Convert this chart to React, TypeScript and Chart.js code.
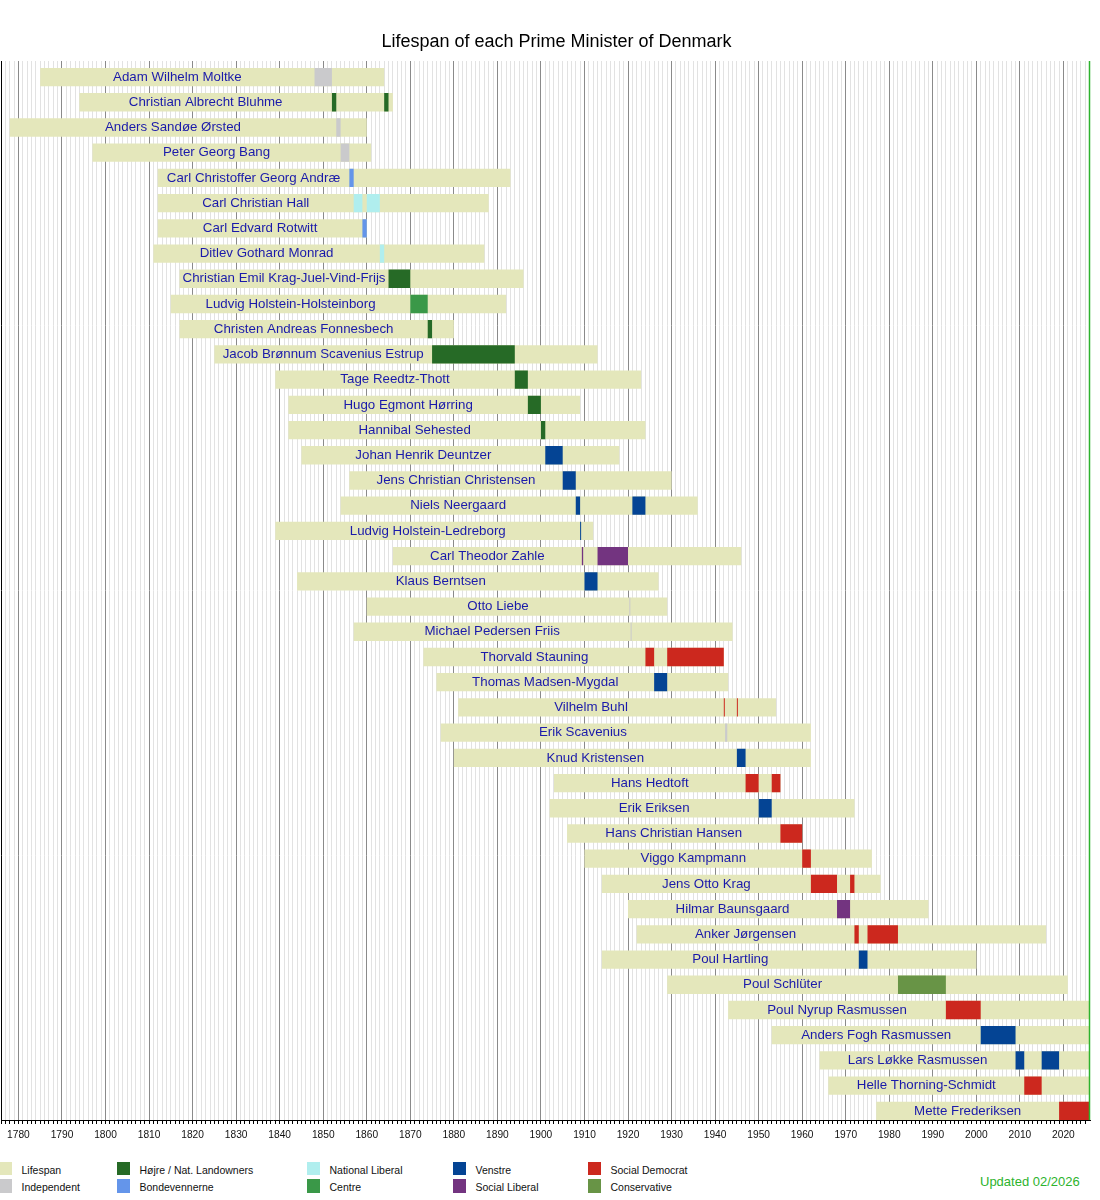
import React, { useEffect, useRef } from "react";
import { Chart, registerables } from "chart.js";

Chart.register(...registerables);

const FONT = "'Liberation Sans', Arial, Helvetica, sans-serif";
const X_MIN = 1776;
const UPDATED = 2026.1; // "now" for the living, Feb 2026
const BAR_FRACTION = 0.726;

const pmNames = [
  "Adam Wilhelm Moltke",
  "Christian Albrecht Bluhme",
  "Anders Sandøe Ørsted",
  "Peter Georg Bang",
  "Carl Christoffer Georg Andræ",
  "Carl Christian Hall",
  "Carl Edvard Rotwitt",
  "Ditlev Gothard Monrad",
  "Christian Emil Krag-Juel-Vind-Frijs",
  "Ludvig Holstein-Holsteinborg",
  "Christen Andreas Fonnesbech",
  "Jacob Brønnum Scavenius Estrup",
  "Tage Reedtz-Thott",
  "Hugo Egmont Hørring",
  "Hannibal Sehested",
  "Johan Henrik Deuntzer",
  "Jens Christian Christensen",
  "Niels Neergaard",
  "Ludvig Holstein-Ledreborg",
  "Carl Theodor Zahle",
  "Klaus Berntsen",
  "Otto Liebe",
  "Michael Pedersen Friis",
  "Thorvald Stauning",
  "Thomas Madsen-Mygdal",
  "Vilhelm Buhl",
  "Erik Scavenius",
  "Knud Kristensen",
  "Hans Hedtoft",
  "Erik Eriksen",
  "Hans Christian Hansen",
  "Viggo Kampmann",
  "Jens Otto Krag",
  "Hilmar Baunsgaard",
  "Anker Jørgensen",
  "Poul Hartling",
  "Poul Schlüter",
  "Poul Nyrup Rasmussen",
  "Anders Fogh Rasmussen",
  "Lars Løkke Rasmussen",
  "Helle Thorning-Schmidt",
  "Mette Frederiksen",
];

const born = [
  1785, 1794, 1778, 1797, 1812, 1812, 1812, 1811, 1817, 1815, 1817, 1825, 1839, 1842,
  1842, 1845, 1856, 1854, 1839, 1866, 1844, 1860, 1857, 1873, 1876, 1881, 1877, 1880,
  1903, 1902, 1906, 1910, 1914, 1920, 1922, 1914, 1929, 1943, 1953, 1964, 1966, 1977,
];

// null = still alive
const died: (number | null)[] = [
  1864, 1866, 1860, 1861, 1893, 1888, 1860, 1887, 1896, 1892, 1880, 1913, 1923, 1909,
  1924, 1918, 1930, 1936, 1912, 1946, 1927, 1929, 1944, 1942, 1943, 1954, 1962, 1962,
  1955, 1972, 1960, 1976, 1978, 1989, 2016, 2000, 2021, null, null, null, null, null,
];

// legend order: read down each column
const parties = [
  "Lifespan",
  "Independent",
  "Højre / Nat. Landowners",
  "Bondevennerne",
  "National Liberal",
  "Centre",
  "Venstre",
  "Social Liberal",
  "Social Democrat",
  "Conservative",
];

const partyColors = [
  "#e4e7bb",
  "#cacacc",
  "#266a26",
  "#6495ea",
  "#b0eeee",
  "#3a9848",
  "#044494",
  "#733480",
  "#cc281e",
  "#689446",
];

// [prime minister, start, end (null = in office), party]
const terms: [string, number, number | null, string][] = [
  ["Adam Wilhelm Moltke", 1848, 1852, "Independent"],
  ["Christian Albrecht Bluhme", 1852, 1853, "Højre / Nat. Landowners"],
  ["Christian Albrecht Bluhme", 1864, 1865, "Højre / Nat. Landowners"],
  ["Anders Sandøe Ørsted", 1853, 1854, "Independent"],
  ["Peter Georg Bang", 1854, 1856, "Independent"],
  ["Carl Christoffer Georg Andræ", 1856, 1857, "Bondevennerne"],
  ["Carl Christian Hall", 1857, 1859, "National Liberal"],
  ["Carl Christian Hall", 1860, 1863, "National Liberal"],
  ["Carl Edvard Rotwitt", 1859, 1860, "Bondevennerne"],
  ["Ditlev Gothard Monrad", 1863, 1864, "National Liberal"],
  ["Christian Emil Krag-Juel-Vind-Frijs", 1865, 1870, "Højre / Nat. Landowners"],
  ["Ludvig Holstein-Holsteinborg", 1870, 1874, "Centre"],
  ["Christen Andreas Fonnesbech", 1874, 1875, "Højre / Nat. Landowners"],
  ["Jacob Brønnum Scavenius Estrup", 1875, 1894, "Højre / Nat. Landowners"],
  ["Tage Reedtz-Thott", 1894, 1897, "Højre / Nat. Landowners"],
  ["Hugo Egmont Hørring", 1897, 1900, "Højre / Nat. Landowners"],
  ["Hannibal Sehested", 1900, 1901, "Højre / Nat. Landowners"],
  ["Johan Henrik Deuntzer", 1901, 1905, "Venstre"],
  ["Jens Christian Christensen", 1905, 1908, "Venstre"],
  ["Niels Neergaard", 1908, 1909, "Venstre"],
  ["Niels Neergaard", 1921, 1924, "Venstre"],
  ["Ludvig Holstein-Ledreborg", 1909, 1909, "Venstre"],
  ["Carl Theodor Zahle", 1909.4, 1909.7, "Social Liberal"],
  ["Carl Theodor Zahle", 1913, 1920, "Social Liberal"],
  ["Klaus Berntsen", 1910, 1913, "Venstre"],
  ["Otto Liebe", 1920.3, 1920.3, "Independent"],
  ["Michael Pedersen Friis", 1920.6, 1920.6, "Independent"],
  ["Thorvald Stauning", 1924, 1926, "Social Democrat"],
  ["Thorvald Stauning", 1929, 1942, "Social Democrat"],
  ["Thomas Madsen-Mygdal", 1926, 1929, "Venstre"],
  ["Vilhelm Buhl", 1942, 1942, "Social Democrat"],
  ["Vilhelm Buhl", 1945, 1945, "Social Democrat"],
  ["Erik Scavenius", 1942.3, 1942.8, "Independent"],
  ["Knud Kristensen", 1945, 1947, "Venstre"],
  ["Hans Hedtoft", 1947, 1950, "Social Democrat"],
  ["Hans Hedtoft", 1953, 1955, "Social Democrat"],
  ["Erik Eriksen", 1950, 1953, "Venstre"],
  ["Hans Christian Hansen", 1955, 1960, "Social Democrat"],
  ["Viggo Kampmann", 1960, 1962, "Social Democrat"],
  ["Jens Otto Krag", 1962, 1968, "Social Democrat"],
  ["Jens Otto Krag", 1971, 1972, "Social Democrat"],
  ["Hilmar Baunsgaard", 1968, 1971, "Social Liberal"],
  ["Anker Jørgensen", 1972, 1973, "Social Democrat"],
  ["Anker Jørgensen", 1975, 1982, "Social Democrat"],
  ["Poul Hartling", 1973, 1975, "Venstre"],
  ["Poul Schlüter", 1982, 1993, "Conservative"],
  ["Poul Nyrup Rasmussen", 1993, 2001, "Social Democrat"],
  ["Anders Fogh Rasmussen", 2001, 2009, "Venstre"],
  ["Lars Løkke Rasmussen", 2009, 2011, "Venstre"],
  ["Lars Løkke Rasmussen", 2015, 2019, "Venstre"],
  ["Helle Thorning-Schmidt", 2011, 2015, "Social Democrat"],
  ["Mette Frederiksen", 2019, null, "Social Democrat"],
];

const legendX = [-1, 117, 307, 453, 588];

const colorOf = (party: string) => partyColors[parties.indexOf(party)];

// bars sit at the bottom of each row, so shift them down by half the gap
const barShift = (chart: any) => {
  const y = chart.scales.y;
  const band = (y.bottom - y.top) / pmNames.length;
  return (band * (1 - BAR_FRACTION)) / 2;
};

const timelinePlugin = {
  id: "timeline",
  beforeDatasetsDraw(chart: any) {
    chart.ctx.save();
    chart.ctx.translate(0, barShift(chart));
  },
  afterDatasetsDraw(chart: any) {
    const ctx = chart.ctx;
    ctx.restore();
    const xs = chart.scales.x;
    const ys = chart.scales.y;
    const shift = barShift(chart);
    ctx.save();
    ctx.font = `13.3px ${FONT}`;
    ctx.fillStyle = "#1a1aaa";
    ctx.textAlign = "center";
    ctx.textBaseline = "middle";
    pmNames.forEach((name, i) => {
      const starts = terms.filter((t) => t[0] === name).map((t) => t[1]);
      const first = Math.min(...starts);
      const x = (xs.getPixelForValue(born[i]) + xs.getPixelForValue(first)) / 2;
      ctx.fillText(name, x, ys.getPixelForValue(i) + shift);
    });
    ctx.restore();
  },
  afterDraw(chart: any) {
    const ctx = chart.ctx;
    const x = chart.scales.x.getPixelForValue(UPDATED);
    ctx.save();
    ctx.strokeStyle = "#2db32d";
    ctx.lineWidth = 1.5;
    ctx.beginPath();
    ctx.moveTo(x - 0.5, chart.chartArea.top);
    ctx.lineTo(x - 0.5, chart.chartArea.bottom);
    ctx.stroke();
    ctx.restore();
  },
};

const LifespanChart = () => {
  const chartRef = useRef<HTMLCanvasElement | null>(null);

  useEffect(() => {
    if (!chartRef.current) return;
    const ctx = chartRef.current.getContext("2d");
    if (!ctx) return;

    const barStyle = {
      grouped: false,
      barPercentage: BAR_FRACTION,
      categoryPercentage: 1,
      borderWidth: 0,
    };

    const datasets: any[] = [
      {
        ...barStyle,
        label: "Lifespan",
        data: pmNames.map((_, i) => [born[i], died[i] ?? UPDATED]),
        backgroundColor: partyColors[0],
        order: 1,
      },
    ];

    terms.forEach(([name, start, end, party]) => {
      const idx = pmNames.indexOf(name);
      datasets.push({
        ...barStyle,
        label: party,
        data: pmNames.map((_, i) => (i === idx ? [start, end ?? UPDATED] : null)),
        backgroundColor: colorOf(party),
        minBarLength: 1,
        order: 0,
      });
    });

    const myChart = new Chart(ctx, {
      type: "bar",
      data: { labels: pmNames, datasets },
      plugins: [timelinePlugin],
      options: {
        indexAxis: "y",
        responsive: false,
        animation: false,
        layout: { padding: { left: 1, right: 10, top: 61, bottom: 4 } },
        scales: {
          x: {
            type: "linear",
            min: X_MIN,
            max: UPDATED,
            position: "bottom",
            ticks: {
              stepSize: 1,
              autoSkip: false,
              maxRotation: 0,
              minRotation: 0,
              // zero padding keeps the plot flush left; the tall line height
              // pushes the labels down instead
              padding: 0,
              color: "#111",
              font: { family: FONT, size: 10.2, lineHeight: "22px" },
              callback: (v: any) =>
                Number.isInteger(v) && v % 10 === 0 ? String(v) : "",
            },
            grid: {
              lineWidth: 1,
              tickLength: 4,
              color: (c: any) => {
                const v = c.tick?.value;
                if (v === X_MIN) return "#000";
                if (!Number.isInteger(v)) return "rgba(0,0,0,0)";
                return v % 10 === 0 ? "#8a8a8a" : "#e2e2e2";
              },
              tickColor: (c: any) =>
                Number.isInteger(c.tick?.value) ? "#000" : "rgba(0,0,0,0)",
            },
            border: { display: true, color: "#000", width: 1 },
          },
          y: {
            type: "category",
            display: false,
            grid: { display: false },
          },
        },
        plugins: {
          legend: { display: false },
          title: { display: false },
          tooltip: {
            callbacks: {
              label: (item: any) => {
                const [a, b] = item.raw as number[];
                return `${item.dataset.label}: ${a}–${b >= UPDATED ? "" : b}`;
              },
            },
          },
        },
      },
    });

    return () => {
      myChart.destroy();
    };
  }, []);

  return (
    <div
      style={{
        position: "absolute",
        left: 0,
        top: 0,
        width: 1100,
        height: 1200,
        background: "#fff",
        fontFamily: FONT,
        overflow: "hidden",
      }}
    >
      <canvas ref={chartRef} width={1100} height={1150} style={{ display: "block" }} />
      <div
        style={{
          position: "absolute",
          left: 0,
          top: 30,
          width: 1113,
          textAlign: "center",
          fontSize: 18,
          lineHeight: "22px",
          color: "#000",
        }}
      >
        Lifespan of each Prime Minister of Denmark
      </div>
      <div style={{ position: "absolute", left: 0, top: 1150, width: 1100, height: 50 }}>
        {parties.map((p, i) => {
          const col = Math.floor(i / 2);
          const row = i % 2;
          return (
            <React.Fragment key={p}>
              <span
                style={{
                  position: "absolute",
                  left: legendX[col],
                  top: 11.7 + row * 17.6,
                  width: 12.7,
                  height: 13.3,
                  background: partyColors[i],
                }}
              />
              <span
                style={{
                  position: "absolute",
                  left: legendX[col] + 22.5,
                  top: 13 + row * 17.4,
                  fontSize: 10.5,
                  lineHeight: "14px",
                  color: "#111",
                  whiteSpace: "nowrap",
                }}
              >
                {p}
              </span>
            </React.Fragment>
          );
        })}
        <div
          style={{
            position: "absolute",
            left: 980,
            top: 24,
            fontSize: 13,
            lineHeight: "15px",
            color: "#2db32d",
            whiteSpace: "nowrap",
          }}
        >
          Updated 02/2026
        </div>
      </div>
    </div>
  );
};

export default function App() {
  return <LifespanChart />;
}
